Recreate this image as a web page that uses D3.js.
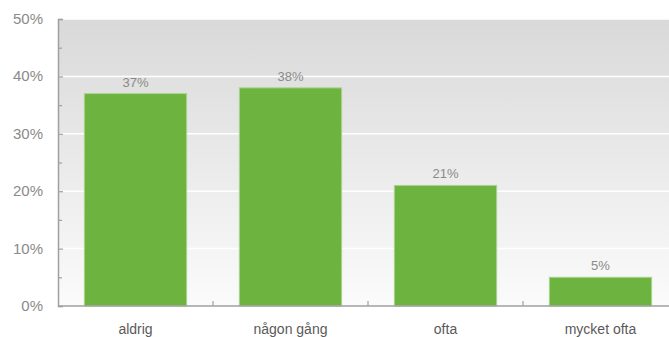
<!DOCTYPE html>
<html><head><meta charset="utf-8">
<script src="https://cdn.jsdelivr.net/npm/d3@7/dist/d3.min.js"></script>
<style>body{margin:0;background:#fff}svg{display:block;font-family:"Liberation Sans",Arial,sans-serif}</style>
</head><body><svg id="c" width="669" height="337"></svg>
<script>
const categories = ["aldrig", "någon gång", "ofta", "mycket ofta"];
const values = [37, 38, 21, 5];
const yTicks = [0, 10, 20, 30, 40, 50];
const yMinorTicks = [5, 15, 25, 35, 45];

const svg = d3.select("#c");
const mLeft = 58, mTop = 19, mBottom = 306, mRight = 678;
const x = d3.scaleBand().domain(categories).range([mLeft, mRight]).paddingInner(0.34).paddingOuter(0.17);
const y = d3.scaleLinear().domain([0, 50]).range([mBottom, mTop]);

const defs = svg.append("defs");
const g = defs.append("linearGradient").attr("id","bg").attr("x1",0).attr("y1",0).attr("x2",0).attr("y2",1);
g.append("stop").attr("offset","0%").attr("stop-color","#d9d9d9");
g.append("stop").attr("offset","100%").attr("stop-color","#fbfbfb");

svg.append("rect").attr("x",mLeft).attr("y",mTop).attr("width",mRight-mLeft).attr("height",mBottom-mTop).attr("fill","url(#bg)");

// gridlines
svg.append("g").selectAll("line").data(yTicks.filter(d=>d>0)).join("line")
  .attr("x1",mLeft).attr("x2",mRight).attr("y1",d=>y(d)).attr("y2",d=>y(d))
  .attr("stroke","#fff").attr("stroke-width",1.5);

// bars
svg.append("g").selectAll("rect").data(values).join("rect")
  .attr("x",(d,i)=>x(categories[i])).attr("width",x.bandwidth())
  .attr("y",d=>y(d)).attr("height",d=>y(0)-y(d))
  .attr("fill","#6cb33f").attr("stroke","#a8d48c").attr("stroke-width",1);

// value labels
svg.append("g").selectAll("text").data(values).join("text")
  .attr("x",(d,i)=>x(categories[i])+x.bandwidth()/2).attr("y",d=>y(d)-7)
  .attr("text-anchor","middle").attr("font-size",13).attr("fill","#8a8a8a")
  .text(d=>d+"%");

// y axis
const yAxis = d3.axisRight(y).tickValues(yTicks).tickSize(5).tickFormat("");
const ya = svg.append("g").attr("transform",`translate(${mLeft},0)`).call(yAxis);
ya.select(".domain").attr("stroke","#a0a0a0").attr("stroke-width",1.5);
ya.selectAll(".tick line").attr("stroke","#a0a0a0").attr("stroke-width",1.2);
svg.append("g").attr("transform",`translate(${mLeft},0)`).call(d3.axisRight(y).tickValues(yMinorTicks).tickSize(4).tickFormat(""))
  .call(s=>s.select(".domain").remove())
  .selectAll(".tick line").attr("stroke","#a0a0a0").attr("stroke-width",1.2);
svg.append("g").selectAll("text").data(yTicks).join("text")
  .attr("x",43).attr("y",d=>y(d)+5).attr("text-anchor","end")
  .attr("font-size",15).attr("fill","#8a8a8a").text(d=>d+"%");

// x axis
svg.append("line").attr("x1",mLeft).attr("x2",mRight).attr("y1",mBottom).attr("y2",mBottom)
  .attr("stroke","#a0a0a0").attr("stroke-width",1.5);
const step = x.step();
svg.append("g").selectAll("line").data(categories.slice(1)).join("line")
  .attr("x1",d=>x(d)-x.paddingInner()*step/2).attr("x2",d=>x(d)-x.paddingInner()*step/2)
  .attr("y1",mBottom).attr("y2",mBottom-5).attr("stroke","#a0a0a0").attr("stroke-width",1.2);
svg.append("g").selectAll("text").data(categories).join("text")
  .attr("x",d=>x(d)+x.bandwidth()/2).attr("y",334).attr("text-anchor","middle")
  .attr("font-size",14).attr("fill","#5a5a5a").text(d=>d);
</script></body></html>
